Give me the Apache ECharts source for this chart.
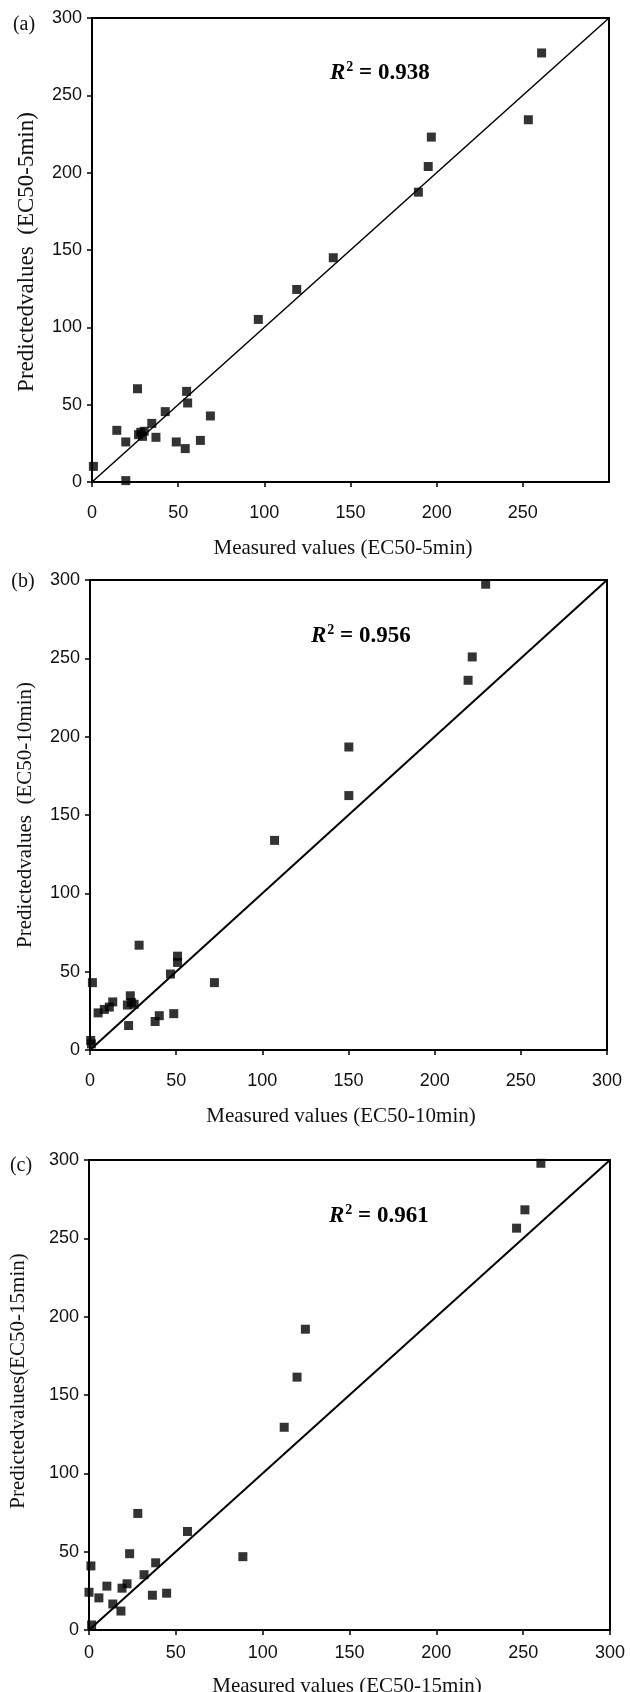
<!DOCTYPE html>
<html>
<head>
<meta charset="utf-8">
<script src="https://cdn.jsdelivr.net/npm/echarts@6/dist/echarts.min.js"></script>
<style>
  html, body { margin: 0; padding: 0; background: #fff; }
  #chart { width: 630px; height: 1692px; }
</style>
</head>
<body>
<div id="chart"></div>
<script>
// ---------- data ----------
var axisTicks = [0, 50, 100, 150, 200, 250, 300];

var aMeasured  = [260.9, 253.2, 196.9, 195.1, 189.4, 140.0, 118.8, 96.5,
                  26.4, 54.9, 55.5, 42.5, 68.7, 34.7, 14.4, 28.3, 30.3, 27.0, 29.3, 37.1, 19.6, 48.9, 62.9, 54.1, 0.8, 19.6];
var aPredicted = [277.4, 234.2, 223.0, 204.0, 187.4, 145.0, 124.5, 105.1,
                  60.3, 58.6, 51.1, 45.5, 42.7, 37.9, 33.4, 32.1, 32.8, 30.6, 29.5, 28.9, 25.9, 25.9, 26.9, 21.6, 10.1, 0.9];

var bMeasured  = [229.6, 221.8, 219.4, 150.2, 150.2, 107.1,
                  28.5, 50.8, 50.8, 46.7, 1.4, 72.2, 23.4, 13.2, 24.0, 25.6, 21.7, 11.2, 8.3, 4.7, 40.2, 48.6, 37.8, 22.4, 0.4, 0.8];
var bPredicted = [297.3, 250.9, 236.0, 193.4, 162.4, 133.8,
                  66.9, 59.9, 55.9, 48.5, 43.0, 43.0, 34.6, 30.7, 30.3, 29.2, 28.7, 27.4, 25.9, 23.7, 21.9, 23.2, 18.2, 15.6, 6.1, 3.9];

var cMeasured  = [260.2, 251.0, 246.2, 124.6, 119.8, 112.4,
                  28.1, 56.7, 88.6, 23.4, 1.1, 38.4, 31.7, 21.9, 19.0, 10.3, 0.0, 36.5, 44.7, 5.7, 13.7, 18.4, 1.5];
var cPredicted = [297.9, 268.2, 256.5, 192.0, 161.4, 129.4,
                  74.4, 62.9, 46.8, 48.7, 40.9, 42.9, 35.3, 29.5, 26.7, 28.0, 24.1, 22.2, 23.5, 20.5, 16.6, 12.1, 3.2];

var lineStart = [0, 0];
var lineEnd = [300, 300];

var panelLabels = ['(a)', '(b)', '(c)'];
var r2Values = ['0.938', '0.956', '0.961'];
var xTitles = ['Measured values (EC50-5min)', 'Measured values (EC50-10min)', 'Measured values (EC50-15min)'];
var yTitles = ['Predictedvalues  (EC50-5min)', 'Predictedvalues  (EC50-10min)', 'Predictedvalues(EC50-15min)'];

// ---------- helpers ----------
function pairs(xs, ys) {
  return xs.map(function (x, i) { return [x, ys[i]]; });
}

var grids = [
  { left: 92, top: 18, width: 517, height: 464 },
  { left: 90, top: 580, width: 517, height: 470 },
  { left: 89, top: 1160, width: 521, height: 470 }
];
var xLabelMargins = [22, 22, 14];
var SANS = "'Liberation Sans', Arial, Helvetica, sans-serif";
var SERIF = "'Liberation Serif', 'Times New Roman', Times, serif";

function makeAxis(type, gi, showMax) {
  return {
    type: 'value',
    gridIndex: gi,
    min: 0, max: 300, interval: 50,
    axisLine: { show: true, onZero: false, lineStyle: { color: '#000', width: 2 } },
    axisTick: { show: true, inside: false, length: 5, lineStyle: { color: '#000', width: 1.5 } },
    splitLine: { show: false },
    axisLabel: {
      color: '#111', fontSize: 18, fontFamily: SANS,
      margin: type === 'x' ? xLabelMargins[gi] : 10,
      showMaxLabel: showMax,
      formatter: function (v) { return axisTicks.indexOf(v) >= 0 ? String(v) : ''; }
    }
  };
}

var series = [];
var datasets = [pairs(aMeasured, aPredicted), pairs(bMeasured, bPredicted), pairs(cMeasured, cPredicted)];
var lineWidths = [1.5, 2, 2];
for (var i = 0; i < 3; i++) {
  series.push({
    type: 'line', xAxisIndex: i, yAxisIndex: i,
    data: [lineStart, lineEnd], symbol: 'none', silent: true,
    lineStyle: { color: '#000', width: lineWidths[i] }, z: 2
  });
  series.push({
    type: 'scatter', xAxisIndex: i, yAxisIndex: i,
    data: datasets[i], symbol: 'rect', symbolSize: 9, clip: false,
    itemStyle: { color: '#000' }, z: 3
  });
}

// text placements (pixels)
var panelLabelPos = [[24, 25], [23, 582], [21, 1166]];
var r2Pos = [[330, 73], [311, 636], [329, 1216]];
var xTitlePos = [[343, 548], [341, 1116], [347, 1686]];
var yTitlePos = [[27, 252], [25, 815], [18, 1381]];
var yTitleSizes = [23, 21, 21];

var graphics = [];
for (var k = 0; k < 3; k++) {
  graphics.push({
    type: 'text', x: panelLabelPos[k][0], y: panelLabelPos[k][1],
    style: { text: panelLabels[k], font: '20px ' + SERIF, fill: '#111', align: 'center', verticalAlign: 'middle' }
  });
  graphics.push({
    type: 'text', x: r2Pos[k][0], y: r2Pos[k][1],
    style: {
      text: '{r|R}{s|2}{n| = ' + r2Values[k] + '}',
      align: 'left', verticalAlign: 'middle',
      rich: {
        r: { fontFamily: SERIF, fontSize: 23, fontWeight: 'bold', fontStyle: 'italic', fill: '#000' },
        s: { fontFamily: SERIF, fontSize: 14, fontWeight: 'bold', fill: '#000', padding: [0, 0, 12, 1] },
        n: { fontFamily: SERIF, fontSize: 23, fontWeight: 'bold', fill: '#000' }
      }
    }
  });
  graphics.push({
    type: 'text', x: xTitlePos[k][0], y: xTitlePos[k][1],
    style: { text: xTitles[k], font: '21px ' + SERIF, fill: '#111', align: 'center', verticalAlign: 'middle' }
  });
  graphics.push({
    type: 'text', x: yTitlePos[k][0], y: yTitlePos[k][1], rotation: Math.PI / 2,
    style: { text: yTitles[k], font: yTitleSizes[k] + 'px ' + SERIF, fill: '#111', align: 'center', verticalAlign: 'middle' }
  });
}

var chart = echarts.init(document.getElementById('chart'), null, { renderer: 'canvas' });
chart.setOption({
  animation: false,
  backgroundColor: '#fff',
  grid: grids.map(function (g) {
    return Object.assign({ show: true, borderColor: '#000', borderWidth: 2, backgroundColor: 'transparent' }, g);
  }),
  xAxis: [makeAxis('x', 0, false), makeAxis('x', 1, true), makeAxis('x', 2, true)],
  yAxis: [makeAxis('y', 0, true), makeAxis('y', 1, true), makeAxis('y', 2, true)],
  series: series,
  graphic: graphics
});
</script>
</body>
</html>
